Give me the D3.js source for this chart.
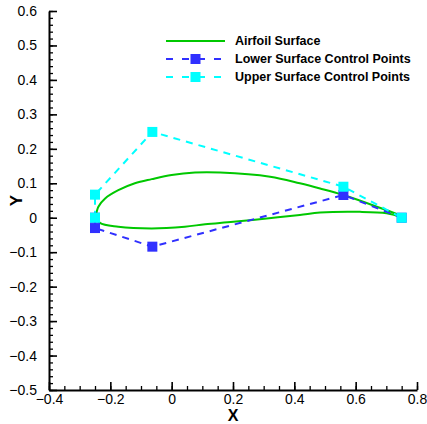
<!DOCTYPE html>
<html>
<head>
<meta charset="utf-8">
<script src="https://cdn.jsdelivr.net/npm/d3@7"></script>
<style>
  body { margin: 0; background: #fff; }
  text { font-family: "Liberation Sans", Arial, sans-serif; }
</style>
</head>
<body>
<svg id="chart"></svg>
<script>
// airfoil surface (upper from leading edge to trailing edge, then lower back)
const upperX = [-0.247, -0.239, -0.217, -0.174, -0.120, -0.065, 0.000, 0.076, 0.158, 0.321, 0.418, 0.484, 0.560, 0.669, 0.744, 0.750];
const upperY = [0.005, 0.032, 0.056, 0.080, 0.100, 0.112, 0.124, 0.131, 0.131, 0.119, 0.100, 0.085, 0.066, 0.032, 0.006, 0.000];
const lowerX = [-0.247, -0.234, -0.174, -0.065, 0.043, 0.109, 0.201, 0.310, 0.418, 0.484, 0.614, 0.701, 0.744, 0.750];
const lowerY = [0.005, -0.015, -0.026, -0.031, -0.026, -0.019, -0.012, -0.002, 0.008, 0.015, 0.017, 0.013, 0.003, 0.000];

// control polygons
const lowerCtrlX = [-0.25, -0.25, -0.063, 0.56, 0.75];
const lowerCtrlY = [0.0, -0.03, -0.084, 0.066, 0.0];
const upperCtrlX = [-0.25, -0.25, -0.063, 0.56, 0.75];
const upperCtrlY = [0.0, 0.067, 0.249, 0.09, 0.0];

const xTicks = [-0.4, -0.2, 0, 0.2, 0.4, 0.6, 0.8];
const yTicks = [-0.5, -0.4, -0.3, -0.2, -0.1, 0, 0.1, 0.2, 0.3, 0.4, 0.5, 0.6];
const legendLabels = ["Airfoil Surface", "Lower Surface Control Points", "Upper Surface Control Points"];

const width = 427, height = 424;
const margin = { left: 49, right: 10, top: 11, bottom: 34 };

const svg = d3.select("#chart").attr("width", width).attr("height", height);

const x = d3.scaleLinear().domain([-0.4, 0.8]).range([margin.left, width - margin.right]);
const y = d3.scaleLinear().domain([-0.5, 0.6]).range([height - margin.bottom, margin.top]);

const zip = (xs, ys) => xs.map((v, i) => [v, ys[i]]);
const line = d3.line().x(d => x(d[0])).y(d => y(d[1]));

const green = "#00c800", blue = "#3030ff", cyan = "#00ffff";

// minor ticks
const xMinor = d3.range(-0.4, 0.8001, 0.05).map(v => +v.toFixed(2));
const yMinor = d3.range(-0.5, 0.6001, 0.02).map(v => +v.toFixed(2));

svg.append("g")
    .attr("transform", `translate(0,${y(-0.5)})`)
    .call(d3.axisBottom(x).tickValues(xMinor).tickFormat("").tickSize(-4).tickSizeOuter(0))
    .call(g => g.select(".domain").remove())
    .selectAll("line").attr("stroke", "#000").attr("stroke-width", 1.3);

svg.append("g")
    .attr("transform", `translate(${x(-0.4)},0)`)
    .call(d3.axisLeft(y).tickValues(yMinor).tickFormat("").tickSize(-4).tickSizeOuter(0))
    .call(g => g.select(".domain").remove())
    .selectAll("line").attr("stroke", "#000").attr("stroke-width", 1.3);

// major axes
const xAxis = svg.append("g")
    .attr("transform", `translate(0,${y(-0.5)})`)
    .call(d3.axisBottom(x).tickValues(xTicks).tickFormat(d3.format("")).tickSize(-8).tickSizeOuter(0).tickPadding(4));

const yAxis = svg.append("g")
    .attr("transform", `translate(${x(-0.4)},0)`)
    .call(d3.axisLeft(y).tickValues(yTicks).tickFormat(d3.format("")).tickSize(-8).tickSizeOuter(0).tickPadding(12));

[xAxis, yAxis].forEach(g => {
  g.select(".domain").attr("stroke", "#000").attr("stroke-width", 2);
  g.selectAll(".tick line").attr("stroke", "#000").attr("stroke-width", 1.6);
  g.selectAll(".tick text").attr("fill", "#000").style("font-size", "14px")
      .style("font-family", "'Liberation Sans', Arial, sans-serif");
});

// axis titles
svg.append("text").attr("x", x(0.2)).attr("y", 421)
    .attr("text-anchor", "middle").style("font-size", "16px").style("font-weight", "bold").text("X");
svg.append("text").attr("transform", `translate(22,${y(0.05)}) rotate(-90)`)
    .attr("text-anchor", "middle").style("font-size", "17px").style("font-weight", "bold").text("Y");

// airfoil
svg.append("path").datum(zip(upperX, upperY))
    .attr("d", line.curve(d3.curveCatmullRom)).attr("fill", "none")
    .attr("stroke", green).attr("stroke-width", 2);
svg.append("path").datum(zip(lowerX, lowerY))
    .attr("d", line.curve(d3.curveCatmullRom)).attr("fill", "none")
    .attr("stroke", green).attr("stroke-width", 2);
line.curve(d3.curveLinear);

// control polygons
const series = [
  { pts: zip(lowerCtrlX, lowerCtrlY), color: blue },
  { pts: zip(upperCtrlX, upperCtrlY), color: cyan }
];
series.forEach(s => {
  svg.append("path").datum(s.pts).attr("d", line).attr("fill", "none")
      .attr("stroke", s.color).attr("stroke-width", 2).attr("stroke-dasharray", "7,6");
});
series.forEach(s => {
  svg.append("g").selectAll("rect").data(s.pts).join("rect")
      .attr("x", d => x(d[0]) - 5).attr("y", d => y(d[1]) - 5)
      .attr("width", 10).attr("height", 10).attr("fill", s.color);
});

// legend
const legend = svg.append("g").attr("transform", "translate(166,41)");
const legendStyles = [
  { color: green, dash: null, marker: false },
  { color: blue, dash: "7,9", marker: true },
  { color: cyan, dash: "7,9", marker: true }
];
legendLabels.forEach((label, i) => {
  const row = legend.append("g").attr("transform", `translate(0,${i * 18})`);
  const st = legendStyles[i];
  row.append("line").attr("x1", 0).attr("x2", 59).attr("y1", 0).attr("y2", 0)
      .attr("stroke", st.color).attr("stroke-width", 2)
      .attr("stroke-dasharray", st.dash);
  if (st.marker) {
    row.append("rect").attr("x", 24.5).attr("y", -5).attr("width", 10).attr("height", 10).attr("fill", st.color);
  }
  row.append("text").attr("x", 69).attr("y", 0).attr("dy", "0.35em")
      .style("font-size", "12.5px").style("font-weight", "bold").text(label);
});
</script>
</body>
</html>
